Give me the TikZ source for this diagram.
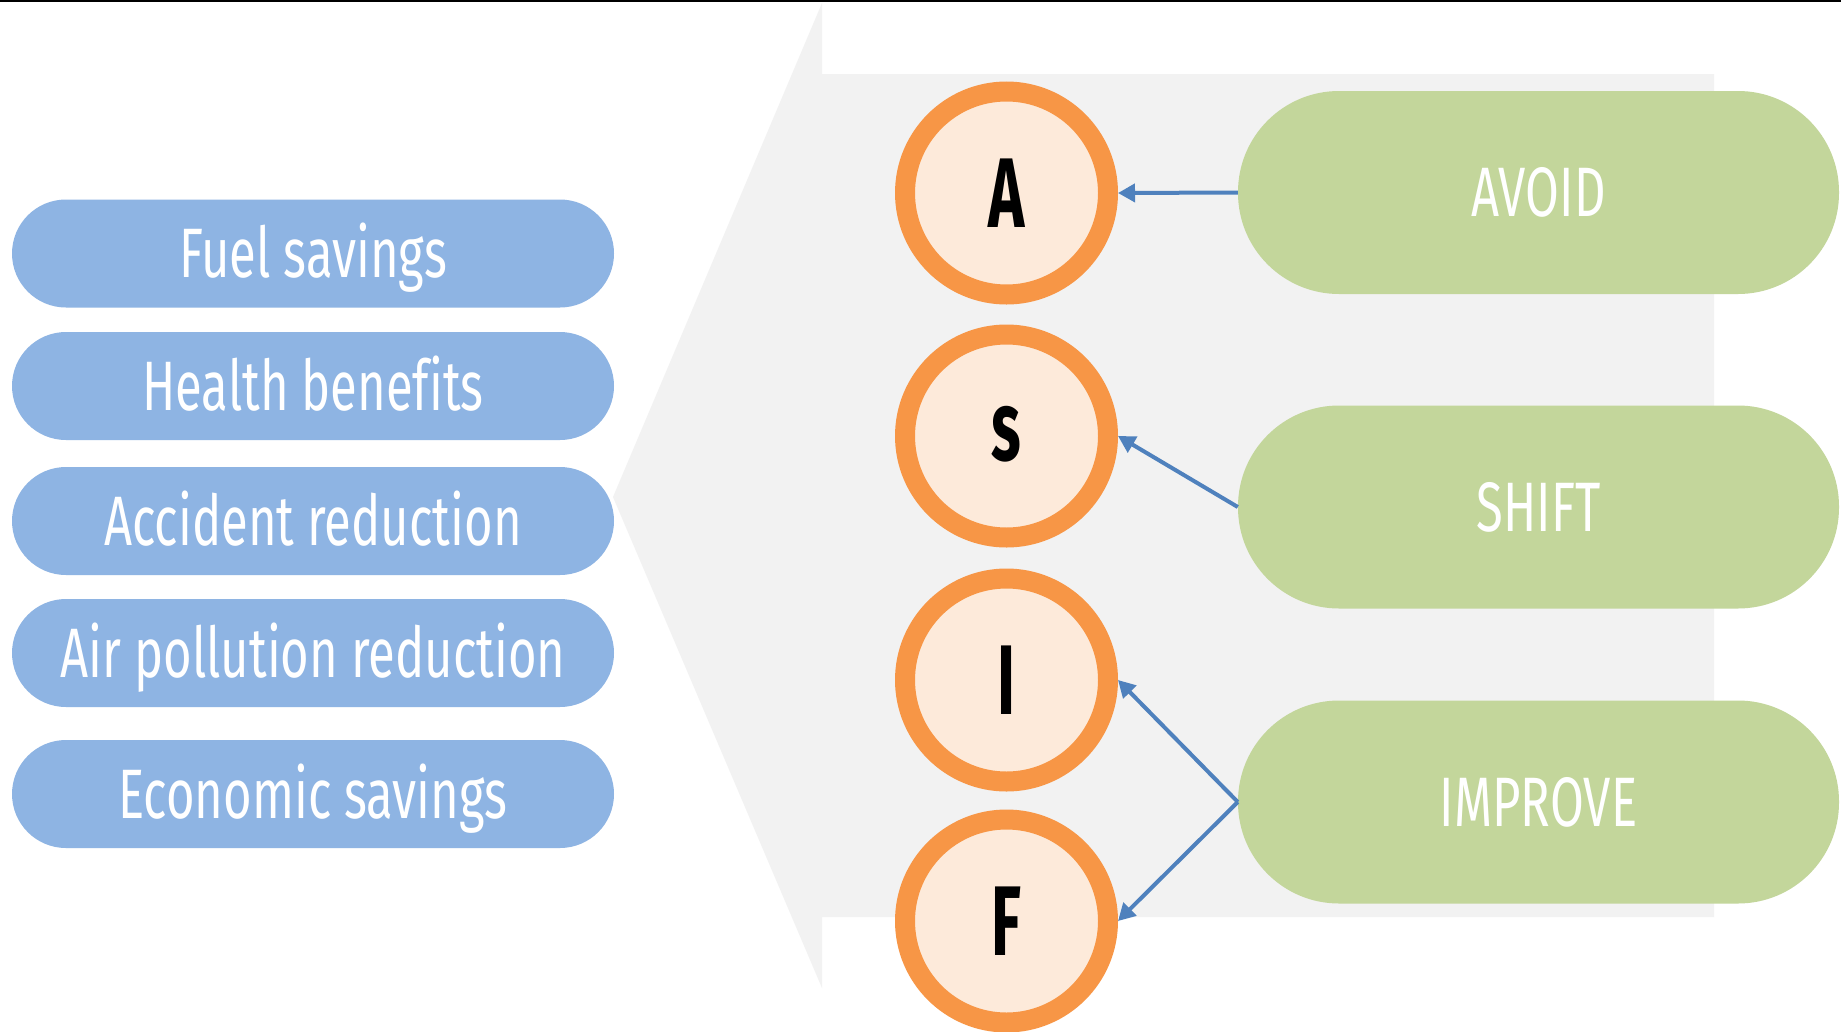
\documentclass[tikz,border=0pt]{standalone}
\usepackage{fontspec}
\newfontfamily\agency[FakeStretch=0.7,Ligatures=NoCommon]{Fira Sans}
\newfontfamily\agencyletter[FakeStretch=0.62]{Fira Sans}
\usetikzlibrary{arrows.meta}
\definecolor{pillblue}{HTML}{8EB4E3}
\definecolor{pillgreen}{HTML}{C3D69B}
\definecolor{bggrey}{HTML}{F2F2F2}
\definecolor{ringorange}{HTML}{F79646}
\definecolor{peach}{HTML}{FDEADA}
\definecolor{arrowblue}{HTML}{4F81BD}
\begin{document}
\begin{tikzpicture}[x=1pt,y=-1pt,
  bluepill/.style={fill=pillblue, rounded corners=54pt, minimum width=602pt, minimum height=108pt,
    inner sep=0pt, text=white, font=\agency\fontsize{70}{70}\selectfont, text height=48pt, text depth=0pt},
  gpill/.style={fill=pillgreen, rounded corners=101pt, minimum width=601pt, minimum height=203pt,
    inner sep=0pt, text=white, font=\agency\fontsize{70}{70}\selectfont, text height=48pt, text depth=0pt},
  circ/.style={circle, draw=ringorange, line width=20pt, fill=peach, minimum size=203pt, inner sep=0pt,
    text=black, font=\agencyletter\bfseries\fontsize{99}{99}\selectfont, text height=68pt, text depth=0pt},
  conn/.style={draw=arrowblue, line width=4pt, -{Triangle[length=17pt,width=18pt]}}]
\useasboundingbox (0,0) rectangle (1841,1031);
\fill[white] (0,0) rectangle (1841,1031);
\fill[black] (0,0) rectangle (1841,1.5);
% grey arrow background
\fill[bggrey] (613,497) -- (822,3) -- (822,74) -- (1714,74) -- (1714,917) -- (822,917) -- (822,988) -- cycle;
% left benefit pills
\node[bluepill] (fuel) at (313,253.5) {Fuel savings};
\node[bluepill] (health) at (313,386) {Health benefits};
\node[bluepill] (accident) at (313,521) {Accident reduction};
\node[bluepill] (air) at (313,653) {Air pollution reduction};
\node[bluepill] (econ) at (313,794) {Economic savings};
% circles
\node[circ] (A) at (1006.5,193) {A};
\node[circ, text height=48pt] (S) at (1006.5,436) {s};
\node[circ] (I) at (1006.5,680) {I};
\node[circ] (F) at (1006.5,921) {F};
% green pills
\node[gpill] (avoid) at (1538.5,192.5) {AVOID};
\node[gpill] (shift) at (1538.5,507) {SHIFT};
\node[gpill] (improve) at (1538.5,802) {IMPROVE};
% connectors
\draw[conn] (avoid.west) -- (A.east);
\draw[conn] (shift.west) -- (S.east);
\draw[conn] (improve.west) -- (I.east);
\draw[conn] (improve.west) -- (F.east);
\end{tikzpicture}
\end{document}
